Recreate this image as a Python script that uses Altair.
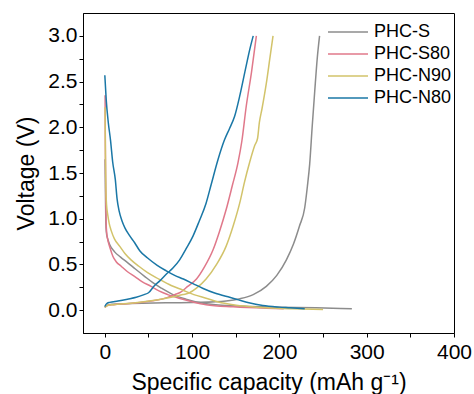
import altair as alt
import pandas as pd

samples = ["PHC-S", "PHC-S80", "PHC-N90", "PHC-N80"]
colors = ["#8c8c8c", "#e0788a", "#d2c36a", "#1a77a6"]

# PHC-S
s_dis_x = [0.3, 0.8, 1.2, 1.8, 3, 5.4, 11, 18, 26, 35, 45.5, 55, 65, 78, 93, 110, 130, 160, 200, 242, 283]
s_dis_v = [1.65, 1.2, 0.95, 0.85, 0.79, 0.72, 0.64, 0.58, 0.52, 0.45, 0.37, 0.30, 0.24, 0.17, 0.12, 0.08, 0.055, 0.042, 0.033, 0.025, 0.015]
s_chg_x = [0, 2, 8, 30, 70, 110, 139, 155, 170, 185, 197, 208, 216, 223, 229, 232, 234.7, 237.5, 240.5, 243.3, 246]
s_chg_v = [0.03, 0.05, 0.065, 0.072, 0.08, 0.085, 0.10, 0.125, 0.17, 0.26, 0.38, 0.55, 0.72, 0.92, 1.12, 1.35, 1.6, 2.0, 2.4, 2.75, 3.0]

# PHC-S80
s80_dis_x = [0.3, 0.6, 1, 1.5, 2.3, 3.4, 6, 9.2, 13, 18.8, 26, 34, 43, 53, 62, 72, 85, 101, 116, 147, 185, 205]
s80_dis_v = [2.35, 1.8, 1.3, 0.95, 0.83, 0.77, 0.68, 0.59, 0.53, 0.48, 0.42, 0.37, 0.31, 0.26, 0.21, 0.17, 0.13, 0.09, 0.06, 0.036, 0.02, 0.015]
s80_chg_x = [0, 3, 10, 25, 45, 60, 72, 80, 85.7, 95, 105, 114, 124, 131, 139, 146, 152.5, 157, 162, 168, 173.6]
s80_chg_v = [0.03, 0.05, 0.06, 0.07, 0.09, 0.11, 0.14, 0.17, 0.19, 0.26, 0.34, 0.47, 0.66, 0.85, 1.10, 1.36, 1.61, 1.85, 2.23, 2.6, 3.0]

# PHC-N90
n90_dis_x = [0.3, 0.7, 1.2, 2, 3.4, 5, 7.3, 11, 16.9, 23, 30, 39, 49, 62, 76, 89, 102, 116, 130, 147, 165, 185, 215, 250]
n90_dis_v = [2.22, 1.7, 1.35, 1.15, 1.04, 0.95, 0.87, 0.78, 0.70, 0.62, 0.55, 0.48, 0.41, 0.34, 0.27, 0.22, 0.17, 0.13, 0.09, 0.06, 0.04, 0.026, 0.015, 0.008]
n90_chg_x = [0, 3, 10, 30, 51, 70, 89.5, 97, 105, 116, 128, 139, 147, 154.5, 160, 166, 171.7, 175, 177, 180, 185, 189, 192.7]
n90_chg_v = [0.03, 0.05, 0.06, 0.075, 0.10, 0.13, 0.17, 0.19, 0.24, 0.34, 0.50, 0.70, 0.92, 1.17, 1.40, 1.62, 1.80, 1.88, 2.05, 2.2, 2.48, 2.75, 3.0]

# PHC-N80
n80_dis_x = [0, 1.6, 4, 6.5, 9, 12, 14, 16.5, 19.5, 23, 28, 34, 40, 49, 60, 70.4, 80, 90, 101, 112, 125, 143, 150.7, 165, 181, 200, 212, 229]
n80_dis_v = [2.57, 2.30, 2.05, 1.86, 1.62, 1.43, 1.22, 1.08, 0.98, 0.90, 0.82, 0.74, 0.65, 0.57, 0.49, 0.43, 0.38, 0.34, 0.29, 0.24, 0.19, 0.14, 0.12, 0.08, 0.05, 0.033, 0.026, 0.015]
n80_chg_x = [0, 2, 5.5, 15, 26, 36, 45, 50, 57, 63, 70, 78, 85.7, 93, 101, 108, 116, 122, 129.6, 137, 143, 148.7, 154.5, 161, 166, 170]
n80_chg_v = [0.04, 0.07, 0.085, 0.10, 0.12, 0.14, 0.17, 0.19, 0.27, 0.32, 0.39, 0.46, 0.55, 0.67, 0.81, 0.97, 1.17, 1.38, 1.645, 1.86, 1.99, 2.12, 2.34, 2.63, 2.85, 3.0]

series = {
    "PHC-S": [(s_dis_x, s_dis_v), (s_chg_x, s_chg_v)],
    "PHC-S80": [(s80_dis_x, s80_dis_v), (s80_chg_x, s80_chg_v)],
    "PHC-N90": [(n90_dis_x, n90_dis_v), (n90_chg_x, n90_chg_v)],
    "PHC-N80": [(n80_dis_x, n80_dis_v), (n80_chg_x, n80_chg_v)],
}

rows = []
for name, segs in series.items():
    for si, (xs, vs) in enumerate(segs):
        seg = "discharge" if si == 0 else "charge"
        for i, (xv, vv) in enumerate(zip(xs, vs)):
            rows.append({"sample": name, "seg": name + "-" + seg, "i": i, "cap": xv, "volt": vv})
df = pd.DataFrame(rows)

x_ticks = [0, 50, 100, 150, 200, 250, 300, 350, 400]
y_ticks = [0, 0.25, 0.5, 0.75, 1.0, 1.25, 1.5, 1.75, 2.0, 2.25, 2.5, 2.75, 3.0]

font = "Liberation Sans"

chart = alt.Chart(df).mark_line(strokeWidth=1.5, interpolate="monotone").encode(
    x=alt.X("cap:Q",
            scale=alt.Scale(domain=[-25, 400], nice=False, zero=False),
            axis=alt.Axis(title="Specific capacity (mAh g⁻¹)", values=x_ticks,
                          labelExpr="datum.value % 100 === 0 ? datum.label : ''",
                          labelOverlap=False, labelFlush=False, grid=False,
                          tickSize=4, labelPadding=4, titlePadding=9)),
    y=alt.Y("volt:Q",
            scale=alt.Scale(domain=[-0.25, 3.25], nice=False, zero=False),
            axis=alt.Axis(title="Voltage (V)", values=y_ticks, format=".1f",
                          labelExpr="round(datum.value * 4) % 2 === 0 ? datum.label : ''",
                          labelOverlap=False, labelFlush=False, grid=False,
                          tickSize=4, labelPadding=2, titlePadding=9)),
    color=alt.Color("sample:N",
                    scale=alt.Scale(domain=samples, range=colors),
                    sort=samples,
                    legend=alt.Legend(title=None, orient="none", legendX=244, legendY=8,
                                      symbolType="stroke", symbolSize=1600,
                                      symbolStrokeWidth=1.5, clipHeight=22,
                                      labelFontSize=18, labelFont=font, labelColor="black",
                                      labelOffset=5, rowPadding=0, padding=0)),
    detail="seg:N",
    order="i:Q",
).properties(
    width=371, height=320,
    autosize="none",
    padding={"left": 83, "top": 13, "right": 20, "bottom": 61},
).configure_view(
    stroke="black", strokeWidth=1
).configure_axis(
    domainColor="black", tickColor="black", labelColor="black", titleColor="black",
    labelFont=font, titleFont=font, labelFontSize=21, titleFontSize=23,
    titleFontWeight="normal", domainWidth=1, tickWidth=1
)

chart.save("out.html", embed_options={"renderer": "svg", "actions": False})
